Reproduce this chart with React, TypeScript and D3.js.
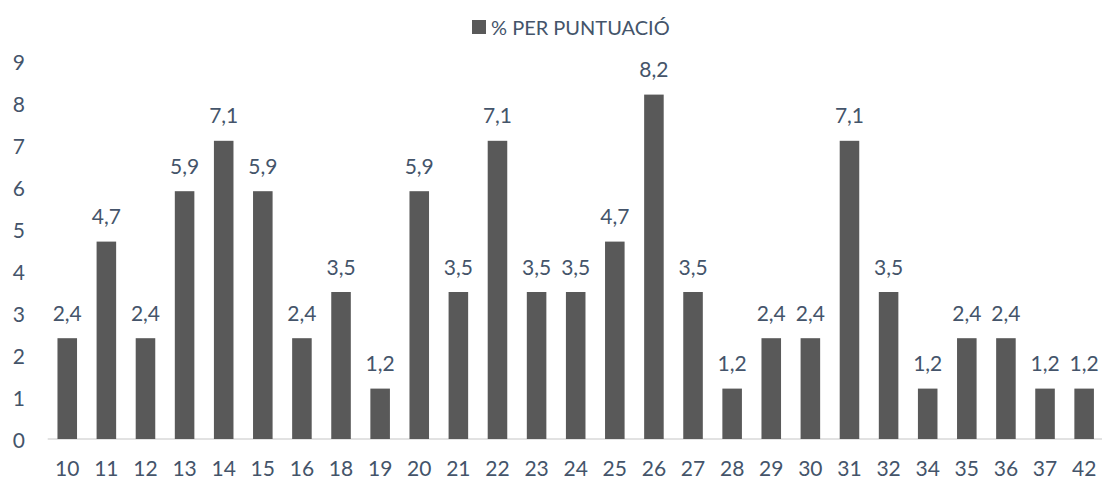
import React from "react";
import * as d3 from "d3";

const categories = ["10","11","12","13","14","15","16","18","19","20","21","22","23","24","25","26","27","28","29","30","31","32","34","35","36","37","42"];
const values = [2.4,4.7,2.4,5.9,7.1,5.9,2.4,3.5,1.2,5.9,3.5,7.1,3.5,3.5,4.7,8.2,3.5,1.2,2.4,2.4,7.1,3.5,1.2,2.4,2.4,1.2,1.2];
const yTicks = [0,1,2,3,4,5,6,7,8,9];
const seriesName = "% PER PUNTUACIÓ";

const W = 1102, H = 479;
const FONT = "Lato, 'Open Sans', sans-serif";
const TEXT = "#44546A";
const BAR = "#595959";

export default function App() {
  const x = d3.scaleBand<string>().domain(categories).range([47.7, 1103.7]).paddingInner(0.5).paddingOuter(0.25);
  const y = d3.scaleLinear().domain([0, 9]).range([439, 61]);
  const fmt = (v: number) => v.toFixed(1).replace(".", ",");
  return (
    <svg width={W} height={H} style={{ position: "absolute", left: 0, top: 0, background: "#fff" }} fontFamily={FONT}>
      <rect x={0} y={0} width={W} height={H} fill="#fff" />
      {/* legend */}
      <rect x={472} y={20} width={14} height={14} fill={BAR} />
      <text x={491} y={27} dominantBaseline="central" fontSize={20} fill={TEXT}>{seriesName}</text>
      {/* y tick labels */}
      {yTicks.map(t => (
        <text key={t} x={25} y={y(t)} textAnchor="end" dominantBaseline="central" fontSize={21} fill={TEXT}>{t}</text>
      ))}
      {/* axis line */}
      <line x1={47.7} x2={1102} y1={y(0)} y2={y(0)} stroke="#D9D9D9" strokeWidth={1.5} />
      {/* bars */}
      {categories.map((c, i) => (
        <rect key={c} x={x(c)} y={y(values[i])} width={x.bandwidth()} height={y(0) - y(values[i])} fill={BAR} />
      ))}
      {/* value labels */}
      {categories.map((c, i) => (
        <text key={"l" + c} x={(x(c) as number) + x.bandwidth() / 2} y={y(values[i]) - 26} textAnchor="middle" dominantBaseline="central" fontSize={21} fill={TEXT}>{fmt(values[i])}</text>
      ))}
      {/* x tick labels */}
      {categories.map(c => (
        <text key={"x" + c} x={(x(c) as number) + x.bandwidth() / 2} y={467} textAnchor="middle" dominantBaseline="central" fontSize={21} fill={TEXT}>{c}</text>
      ))}
    </svg>
  );
}
